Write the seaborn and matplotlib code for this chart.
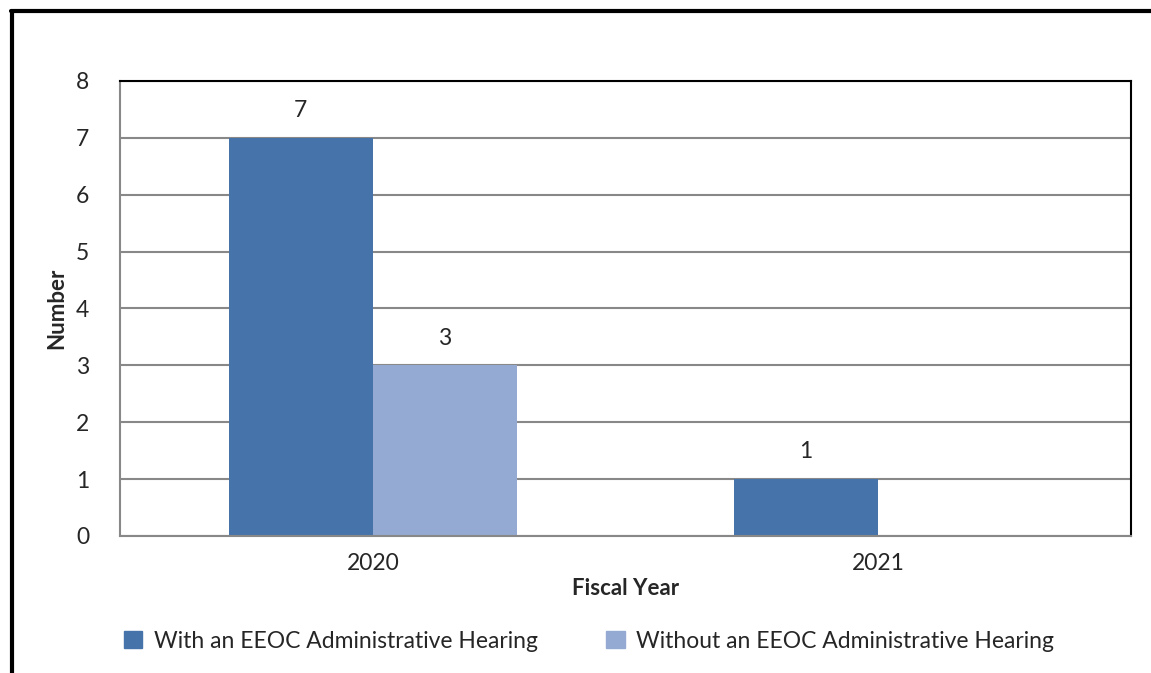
import pandas as pd
import matplotlib.pyplot as plt
import seaborn as sns

# values
years = ["2020", "2021"]
with_hearing = [7, 1]
without_hearing = [3, 0]
series_names = ["With an EEOC Administrative Hearing",
                "Without an EEOC Administrative Hearing"]

df = pd.DataFrame({
    "year": years * 2,
    "number": with_hearing + without_hearing,
    "series": [series_names[0]] * len(years) + [series_names[1]] * len(years),
})

sns.set_style("white")
plt.rcParams["font.family"] = ["Lato", "DejaVu Sans"]

colors = {series_names[0]: "#4674AA", series_names[1]: "#95AAD2"}

fig = plt.figure(figsize=(11.51, 6.73), dpi=100)
ax = fig.add_axes([120 / 1151, 1 - 536 / 673, (1131 - 120) / 1151, (536 - 81) / 673])

sns.barplot(data=df, x="year", y="number", hue="series", palette=colors,
            width=0.57, saturation=1, linewidth=0, ax=ax, legend=False)

# value labels, zero values left unlabelled
for cont in ax.containers:
    labels = [f"{v:.0f}" if v > 0 else "" for v in cont.datavalues]
    ax.bar_label(cont, labels=labels, padding=12, fontsize=16.5)

ax.set_ylim(0, 8)
ax.set_yticks(range(0, 9))
ax.yaxis.grid(True, color="#888888", linewidth=1.5)
ax.set_axisbelow(True)
ax.tick_params(axis="both", labelsize=16.5, length=0)
ax.tick_params(axis="y", pad=22)
ax.tick_params(axis="x", pad=12)

ax.set_xlabel("Fiscal Year", fontsize=16, fontweight="bold", labelpad=3)
ax.set_ylabel("Number", fontsize=16, fontweight="bold", labelpad=6)

for side in ["left", "bottom"]:
    ax.spines[side].set_color("#888888")
    ax.spines[side].set_linewidth(1.5)
for side in ["top", "right"]:
    ax.spines[side].set_color("black")
    ax.spines[side].set_linewidth(1.5)

handles = [plt.Rectangle((0, 0), 1, 1, color=colors[s]) for s in series_names]
fig.legend(handles, series_names, loc="center", bbox_to_anchor=(589 / 1151, 1 - 641 / 673),
           ncol=2, frameon=False, fontsize=16.5, handlelength=0.8, handleheight=0.8,
           handletextpad=0.5, columnspacing=3.0)

# outer frame of the chart area
fig.add_artist(plt.Line2D([12 / 1151, 12 / 1151], [0, 1 - 11 / 673], color="black", linewidth=3))
fig.add_artist(plt.Line2D([11 / 1151, 1], [1 - 11 / 673, 1 - 11 / 673], color="black", linewidth=3))

fig.savefig("out.png", dpi=100)
